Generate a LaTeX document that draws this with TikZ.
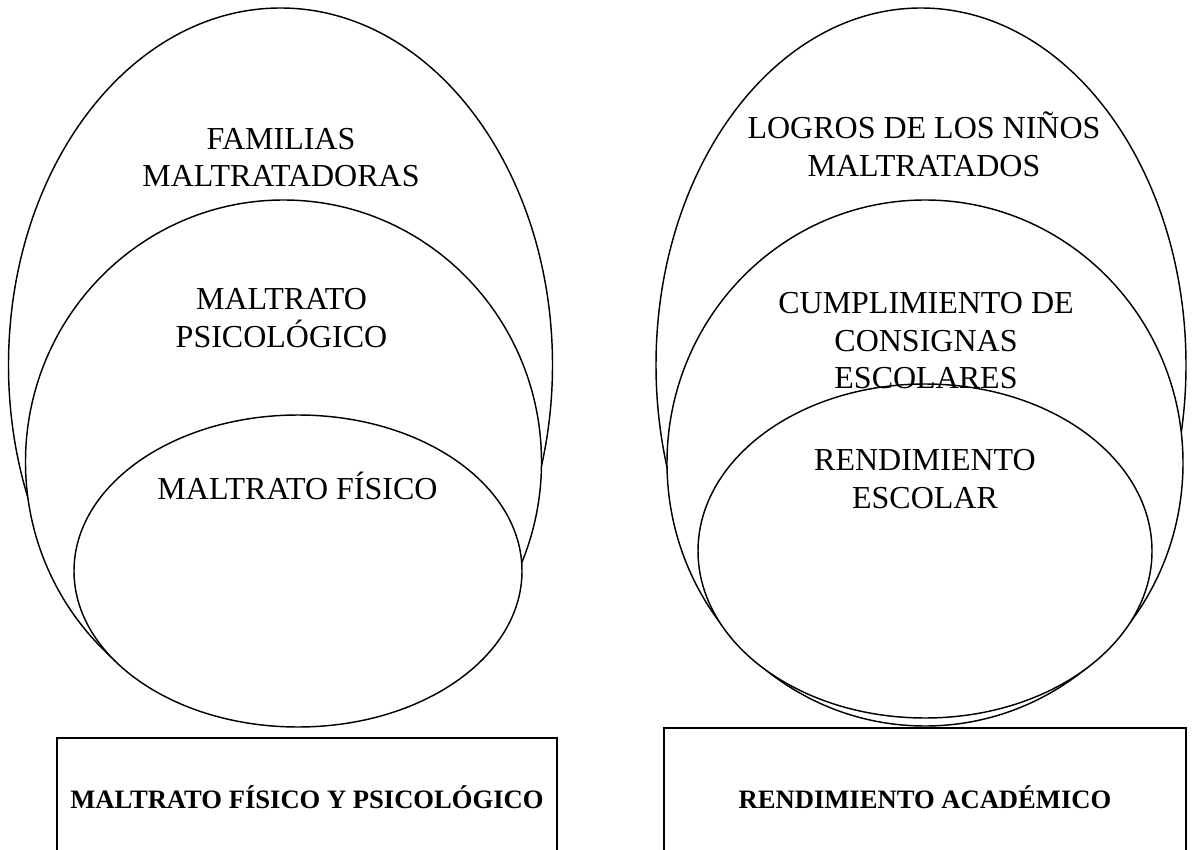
\documentclass[tikz,border=0pt]{standalone}
\usepackage{fontspec}
\setmainfont{Liberation Serif}
\tikzset{
  oval/.style={draw=black, fill=white, line width=1.45pt},
  boxline/.style={draw=black, line width=2.2pt},
  lbl/.style={anchor=base, inner sep=0pt, font=\fontsize{32}{37.5}\selectfont},
  blbl/.style={anchor=base, inner sep=0pt, font=\fontsize{26.6}{30}\selectfont\bfseries}
}
\begin{document}
\begin{tikzpicture}[x=1pt, y=-1pt]
\useasboundingbox (0,0) rectangle (1194,850);
\clip (0,0) rectangle (1194,850);
% left group
\draw[oval] (280.5,365) ellipse [x radius=272, y radius=357];
\draw[oval] (283.5,462) ellipse [x radius=258, y radius=262];
\draw[oval] (298,571) ellipse [x radius=224, y radius=156];
% right group
\draw[oval] (921,365) ellipse [x radius=265, y radius=357];
\draw[oval] (925,463) ellipse [x radius=258, y radius=263];
\draw[oval] (925,551) ellipse [x radius=227, y radius=167];
% left labels
\node[lbl] (fam1) at (281,150) {FAMILIAS};
\node[lbl] (fam2) at (281,187) {MALTRATADORAS};
\node[lbl] (psi1) at (281.5,309) {MALTRATO};
\node[lbl] (psi2) at (281.5,347) {PSICOLÓGICO};
\node[lbl] (fis) at (297.5,499) {MALTRATO FÍSICO};
% right labels
\node[lbl] (log1) at (924,139) {LOGROS DE LOS NIÑOS};
\node[lbl] (log2) at (924,177) {MALTRATADOS};
\node[lbl] (cum1) at (926,314) {CUMPLIMIENTO DE};
\node[lbl] (cum2) at (926,351) {CONSIGNAS};
\node[lbl] (cum3) at (926,388) {ESCOLARES};
\node[lbl] (ren1) at (925,470) {RENDIMIENTO};
\node[lbl] (ren2) at (925,508) {ESCOLAR};
% boxes
\draw[boxline] (57,738) rectangle (557,880);
\draw[boxline] (664,728) rectangle (1186,880);
\node[blbl] (boxl) at (307,808) {MALTRATO FÍSICO Y PSICOLÓGICO};
\node[blbl] (boxr) at (925,808) {RENDIMIENTO ACADÉMICO};
\end{tikzpicture}
\end{document}
